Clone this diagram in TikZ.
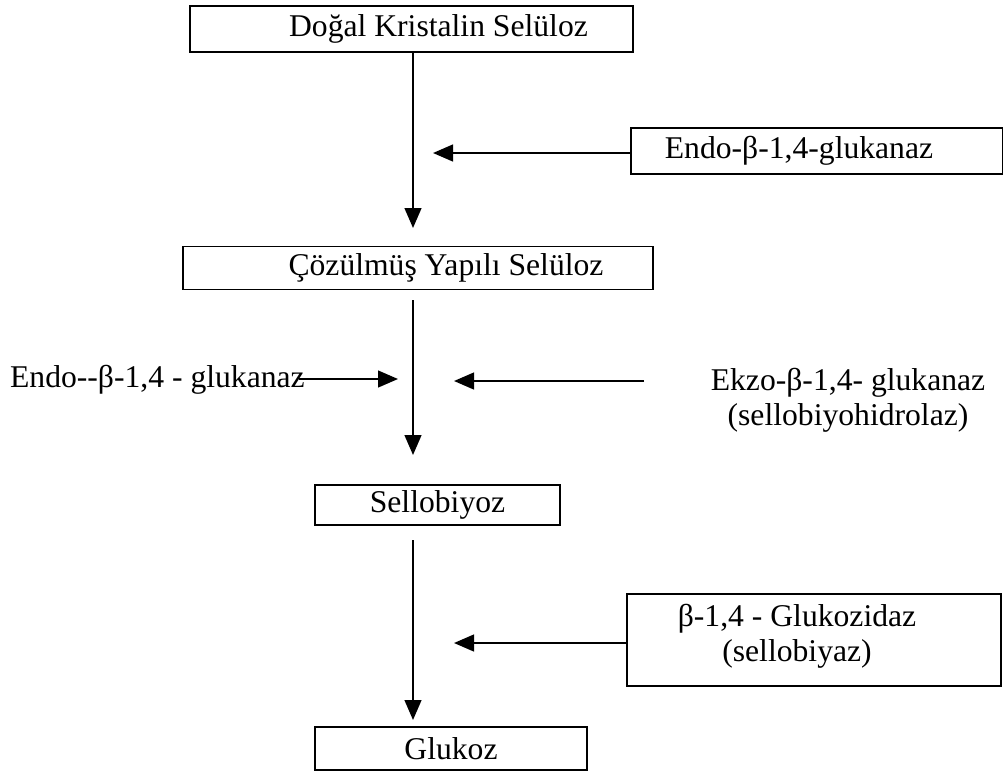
\documentclass[tikz,border=0pt]{standalone}
\usepackage{fontspec}
\setmainfont{Liberation Serif}
\usepackage{tikz}
\usetikzlibrary{arrows.meta, positioning, calc}
\tikzset{
  stagebox/.style={rectangle, draw=black, line width=1pt, inner sep=0pt,
                   minimum height=#1, align=center},
  stagebox/.default=1.1cm,
  enzlbl/.style={inner sep=0pt, align=center},
  arr/.style={-{Triangle[length=0.5cm, width=0.42cm]}, line width=1.4pt, #1},
  arr/.default=black,
}

\begin{document}
\begin{tikzpicture}[x=0.025cm, y=-0.025cm,
    every node/.style={font=\fontsize{22.5}{25}\selectfont}]
  \useasboundingbox (0,0) rectangle (1003,772);

  % main chain
  \node[stagebox=1.15cm, minimum width=11.08cm] (dogal) at (411.5,29)
    {\hspace*{1.35cm}Doğal Kristalin Selüloz};
  \node[stagebox=1.08cm, minimum width=11.75cm] (cozulmus) at (418,268)
    {\hspace*{1.4cm}Çözülmüş Yapılı Selüloz};
  \node[stagebox=1.0cm, minimum width=6.125cm] (sellobiyoz) at (437.5,505) {Sellobiyoz};
  \node[stagebox=1.075cm, minimum width=6.8cm] (glukoz) at (451,748.5) {Glukoz};

  % enzymes
  \node[stagebox=1.15cm, minimum width=9.3cm] (endoA) at (817,151)
    {Endo-β-1,4-glukanaz\hspace*{0.9cm}};
  \node[enzlbl, anchor=east] (endoB) at (305,380) {Endo-{}-β-1,4 - glukanaz};
  \node[enzlbl] (ekzo) at (848,400) {Ekzo-β-1,4- glukanaz\\(sellobiyohidrolaz)};
  \node[stagebox=2.3cm, minimum width=9.35cm] (glukozidaz) at (814,640) {};
  \node[enzlbl] (glukozidazText) at (797,636) {β-1,4 - Glukozidaz\\(sellobiyaz)};

  \coordinate (v1end) at (413,228);
  \coordinate (v2start) at (413,300);
  \coordinate (v2end) at (413,455);
  \coordinate (v3start) at (413,540);
  \coordinate (v3end) at (413,720);
  \coordinate (h1end) at (433,153);
  \coordinate (h2end) at (398,379);
  \coordinate (h3start) at (644,381);
  \coordinate (h3end) at (454,381);
  \coordinate (h4end) at (454,643);

  \draw[arr] (dogal.south -| v1end) -- (v1end);
  \draw[arr] (v2start) -- (v2end);
  \draw[arr] (v3start) -- (v3end);

  \draw[arr] (endoA.west |- h1end) -- (h1end);
  \draw[arr] ([xshift=-0.15cm]endoB.east |- h2end) -- (h2end);
  \draw[arr] (h3start) -- (h3end);
  \draw[arr] (glukozidaz.west |- h4end) -- (h4end);
\end{tikzpicture}
\end{document}
